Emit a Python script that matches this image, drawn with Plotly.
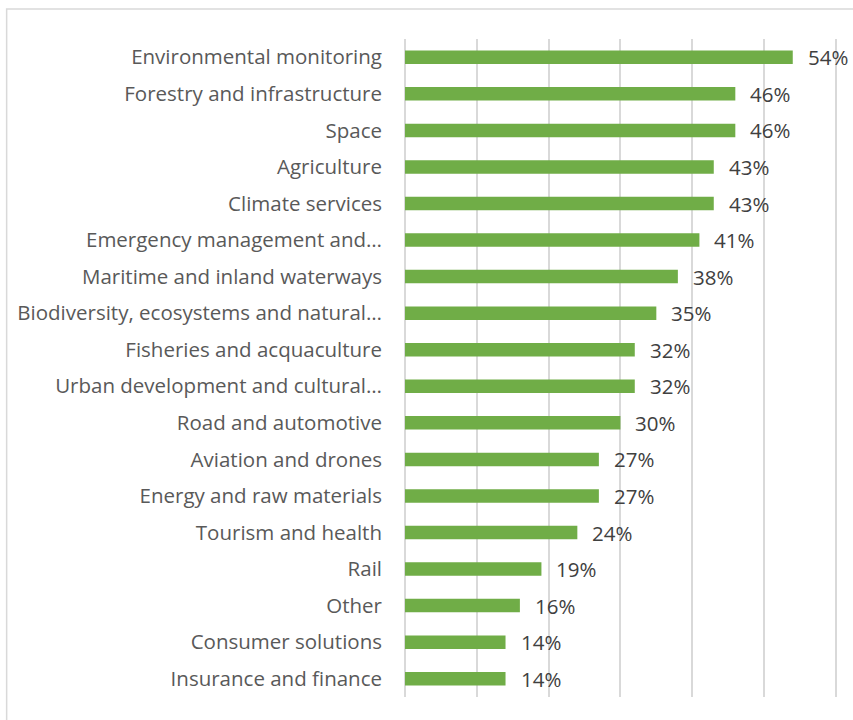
import plotly.graph_objects as go

# Share of respondents by application domain
categories = [
    "Environmental monitoring",
    "Forestry and infrastructure",
    "Space",
    "Agriculture",
    "Climate services",
    "Emergency management and…",
    "Maritime and inland waterways",
    "Biodiversity, ecosystems and natural…",
    "Fisheries and acquaculture",
    "Urban development and cultural…",
    "Road and automotive",
    "Aviation and drones",
    "Energy and raw materials",
    "Tourism and health",
    "Rail",
    "Other",
    "Consumer solutions",
    "Insurance and finance",
]
shares = [54, 46, 46, 43, 43, 41, 38, 35, 32, 32, 30, 27, 27, 24, 19, 16, 14, 14]
grid_ticks = [0, 10, 20, 30, 40, 50, 60]

FONT = "Open Sans"
BAR_GREEN = "#70AD47"
GRID = "#D9D9D9"

fig = go.Figure(
    go.Bar(
        x=shares,
        y=categories,
        orientation="h",
        marker=dict(color=BAR_GREEN, line=dict(width=0)),
        width=0.37,
        hoverinfo="x+y",
    )
)

# value labels to the right of each bar
for cat, v in zip(categories, shares):
    fig.add_annotation(
        x=v, y=cat, text=f"{v}%", showarrow=False,
        xanchor="left", xshift=13,
        font=dict(family=FONT, size=20.5, color="#404040"),
    )

# light frame around the chart area
fig.add_shape(
    type="rect", xref="paper", yref="paper",
    x0=-0.92, x1=1.2, y0=-0.2, y1=1.0455,
    line=dict(color=GRID, width=1.5), fillcolor="rgba(0,0,0,0)",
    layer="below",
)

fig.update_layout(
    width=853, height=720,
    margin=dict(l=405, r=15, t=39, b=23),
    paper_bgcolor="white", plot_bgcolor="white",
    showlegend=False,
    font=dict(family=FONT, size=20.5, color="#595959"),
    xaxis=dict(
        range=[0, 60.3], tickvals=grid_ticks,
        showticklabels=False,
        showgrid=True, gridcolor=GRID, gridwidth=1.5,
        zeroline=True, zerolinecolor=GRID, zerolinewidth=1.5,
        fixedrange=True,
    ),
    yaxis=dict(
        autorange="reversed", showgrid=False, zeroline=False,
        ticks="", ticklabelstandoff=22, automargin=False,
        tickfont=dict(family=FONT, size=20.5, color="#595959"),
        fixedrange=True,
    ),
)

fig.write_html("out.html")
